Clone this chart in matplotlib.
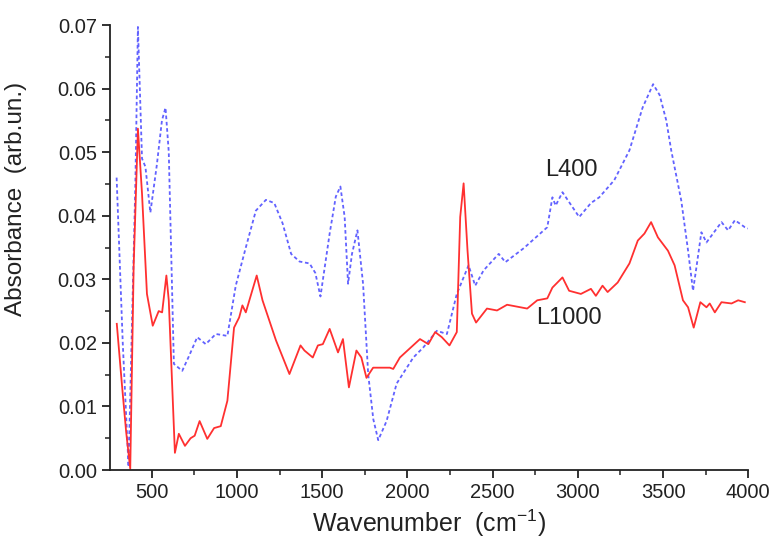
import numpy as np
import matplotlib as mpl
mpl.use('Agg')
import matplotlib.pyplot as plt
from matplotlib.ticker import MultipleLocator

plt.rcParams['font.family'] = ['Liberation Sans', 'DejaVu Sans']
plt.rcParams['mathtext.fontset'] = 'custom'
plt.rcParams['mathtext.rm'] = 'Liberation Sans'
plt.rcParams['mathtext.it'] = 'Liberation Sans:italic'

# L400 spectrum (blue)
wn_400 = [294, 330, 364, 404, 419, 443, 463, 492, 530, 560, 581, 600, 630, 679, 720,
          767, 817, 876, 944, 993, 1052, 1111, 1170, 1219, 1268, 1318, 1367, 1426,
          1460, 1490, 1544, 1580, 1607, 1632, 1652, 1675, 1707, 1740, 1770, 1800,
          1829, 1878, 1937, 2035, 2094, 2173, 2232, 2290, 2359, 2398, 2447, 2536,
          2575, 2683, 2821, 2851, 2870, 2910, 3008, 3077, 3126, 3214, 3303, 3380,
          3442, 3480, 3519, 3548, 3607, 3647, 3676, 3696, 3725, 3755, 3843, 3882,
          3922, 3980, 4000]
abs_400 = [0.046, 0.020, 0.0005, 0.045, 0.0697, 0.049, 0.0477, 0.0405, 0.048, 0.055,
           0.057, 0.050, 0.0167, 0.0156, 0.018, 0.0209, 0.0198, 0.0214, 0.0211,
           0.029, 0.035, 0.0408, 0.0425, 0.042, 0.0388, 0.034, 0.0328, 0.0325,
           0.031, 0.0273, 0.0372, 0.043, 0.0446, 0.0398, 0.0293, 0.034, 0.0377,
           0.0293, 0.0151, 0.008, 0.0047, 0.0077, 0.0136, 0.0177, 0.0193, 0.0219,
           0.0214, 0.0277, 0.0322, 0.029, 0.0314, 0.034, 0.0327, 0.0349, 0.0382,
           0.0429, 0.0416, 0.0437, 0.0398, 0.042, 0.0429, 0.0456, 0.0503, 0.057,
           0.0607, 0.059, 0.055, 0.0503, 0.0424, 0.0345, 0.0282, 0.0319, 0.0374,
           0.0358, 0.039, 0.0377, 0.0393, 0.0382, 0.038]

# L1000 spectrum (red)
wn_1000 = [295, 325, 350, 374, 394, 419, 443, 472, 506, 541, 561, 586, 600, 636, 659,
           695, 728, 752, 781, 826, 866, 905, 944, 983, 1013, 1032, 1052, 1116, 1150,
           1229, 1308, 1373, 1396, 1445, 1475, 1504, 1544, 1593, 1622, 1657, 1701,
           1730, 1760, 1799, 1897, 1917, 1956, 2074, 2123, 2163, 2202, 2247, 2290,
           2310, 2330, 2353, 2379, 2403, 2467, 2526, 2585, 2703, 2762, 2821, 2851,
           2910, 2949, 3018, 3077, 3106, 3145, 3175, 3234, 3303, 3352, 3391, 3430,
           3470, 3529, 3568, 3617, 3647, 3680, 3719, 3755, 3774, 3804, 3843, 3902,
           3941, 3980]
abs_1000 = [0.023, 0.0135, 0.006, 0.0002, 0.032, 0.0537, 0.0435, 0.0277, 0.0227, 0.025,
            0.0248, 0.0306, 0.0267, 0.0027, 0.0057, 0.0038, 0.005, 0.0054, 0.0077,
            0.0049, 0.0066, 0.0069, 0.0109, 0.0224, 0.024, 0.0259, 0.0248, 0.0306,
            0.0267, 0.0204, 0.0151, 0.0196, 0.0188, 0.0177, 0.0196, 0.0198, 0.0222,
            0.0185, 0.0206, 0.013, 0.0188, 0.0177, 0.0145, 0.0161, 0.0161, 0.0159,
            0.0177, 0.0206, 0.0198, 0.0217, 0.0209, 0.0196, 0.0217, 0.0398, 0.0451,
            0.0345, 0.0246, 0.0232, 0.0254, 0.0251, 0.026, 0.0254, 0.0267, 0.027,
            0.0287, 0.0303, 0.0282, 0.0277, 0.0285, 0.0274, 0.029, 0.028, 0.0295,
            0.0325, 0.0361, 0.0372, 0.039, 0.0366, 0.0345, 0.0322, 0.0267, 0.0256,
            0.0224, 0.0264, 0.0256, 0.0262, 0.0248, 0.0264, 0.0262, 0.0267, 0.0264]

fig = plt.figure(figsize=(7.69, 5.4), dpi=100)
ax = fig.add_axes([0.143, 0.1296, 0.830, 0.824])

ax.plot(wn_400, abs_400, color='#6262ff', lw=1.3, linestyle=(0, (2, 1.5)))
ax.plot(wn_1000, abs_1000, color='#ff3030', lw=1.3)

ax.text(2965, 0.0472, 'L400', fontsize=17, ha='center', va='center', color='#222222')
ax.text(2947, 0.0239, 'L1000', fontsize=17, ha='center', va='center', color='#222222')

ax.set_xlim(255, 4000)
ax.set_ylim(0, 0.07)
ax.xaxis.set_major_locator(MultipleLocator(500))
ax.xaxis.set_minor_locator(MultipleLocator(250))
ax.yaxis.set_major_locator(MultipleLocator(0.01))
ax.yaxis.set_minor_locator(MultipleLocator(0.005))
ax.yaxis.set_major_formatter(mpl.ticker.FormatStrFormatter('%.2f'))

ax.spines['top'].set_visible(False)
ax.spines['right'].set_visible(False)
for s in ['left', 'bottom']:
    ax.spines[s].set_linewidth(1.3)
    ax.spines[s].set_color('#222222')
ax.tick_params(which='major', length=6, width=1.3, labelsize=14.5, colors='#222222')
ax.tick_params(which='minor', length=3.5, width=1.1, colors='#222222')

ax.set_xlabel('Wavenumber  (cm$^{-1}$)', fontsize=18, color='#222222')
ax.set_ylabel('Absorbance  (arb.un.)', fontsize=17.5, color='#222222')
ax.yaxis.set_label_coords(-0.13, 0.61)

plt.savefig('out.png', dpi=100)
